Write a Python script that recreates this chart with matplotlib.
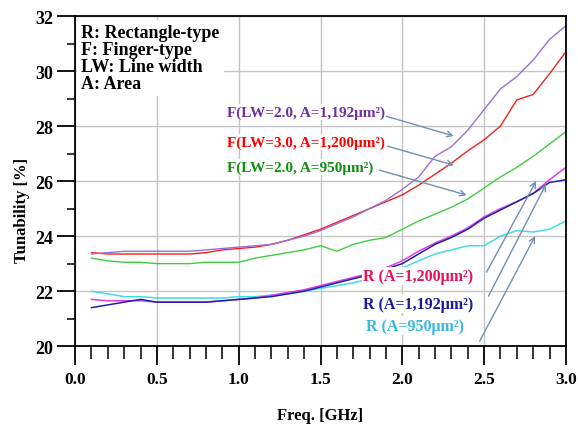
import numpy as np
import matplotlib
matplotlib.use("Agg")
import matplotlib.pyplot as plt
from matplotlib.ticker import MultipleLocator

plt.rcParams['font.family'] = ['Liberation Serif', 'DejaVu Serif']
plt.rcParams['font.weight'] = 'bold'

# frequency points (GHz)
freq = np.round(np.arange(0.1, 3.01, 0.1), 1)

# finger-type curves
f_lw2_a1192 = [23.35, 23.4, 23.45, 23.45, 23.45, 23.45, 23.45, 23.5, 23.55, 23.6,
               23.65, 23.7, 23.85, 24.0, 24.2, 24.45, 24.7, 25.0, 25.3, 25.7,
               26.15, 26.9, 27.25, 27.85, 28.6, 29.35, 29.8, 30.4, 31.15, 31.65]
f_lw3_a1200 = [23.4, 23.35, 23.35, 23.35, 23.35, 23.35, 23.35, 23.4, 23.5, 23.55,
               23.6, 23.7, 23.85, 24.05, 24.25, 24.5, 24.75, 25.0, 25.25, 25.5,
               25.85, 26.25, 26.65, 27.1, 27.5, 28.0, 28.95, 29.15, 29.9, 30.7]
f_lw2_a950 = [23.2, 23.1, 23.05, 23.05, 23.0, 23.0, 23.0, 23.05, 23.05, 23.05,
              23.2, 23.3, 23.4, 23.5, 23.65, 23.45, 23.7, 23.85, 23.95, 24.25,
              24.55, 24.8, 25.05, 25.35, 25.75, 26.15, 26.5, 26.9, 27.35, 27.8]

# rectangle-type curves
r_a1200 = [21.7, 21.65, 21.65, 21.65, 21.6, 21.6, 21.6, 21.6, 21.65, 21.7,
           21.75, 21.85, 21.95, 22.05, 22.2, 22.35, 22.5, 22.65, 22.85, 23.1,
           23.45, 23.75, 24.0, 24.3, 24.7, 25.0, 25.25, 25.55, 26.05, 26.5]
r_a1192 = [21.4, 21.5, 21.6, 21.7, 21.6, 21.6, 21.6, 21.6, 21.65, 21.7,
           21.75, 21.8, 21.9, 22.0, 22.15, 22.3, 22.45, 22.6, 22.8, 23.0,
           23.35, 23.7, 23.95, 24.25, 24.65, 24.95, 25.25, 25.55, 25.95, 26.05]
r_a950 = [22.0, 21.9, 21.8, 21.8, 21.75, 21.75, 21.75, 21.75, 21.75, 21.8,
          21.8, 21.85, 21.9, 22.0, 22.1, 22.2, 22.3, 22.45, 22.6, 22.85,
          23.1, 23.35, 23.5, 23.65, 23.65, 24.0, 24.2, 24.15, 24.25, 24.55]

fig = plt.figure(figsize=(5.78, 4.27), dpi=100)
ax = fig.add_axes([0.130, 0.187, 0.849, 0.773])

ax.plot(freq, r_a950, color='#40dcec', lw=1.1, zorder=2)
ax.plot(freq, r_a1200, color='#e040e0', lw=1.1, zorder=2)
ax.plot(freq, r_a1192, color='#2020b0', lw=1.1, zorder=2)
ax.plot(freq, f_lw2_a950, color='#40cc40', lw=1.0, zorder=2)
ax.plot(freq, f_lw3_a1200, color='#f02020', lw=1.0, zorder=2)
ax.plot(freq, f_lw2_a1192, color='#9a70d8', lw=1.0, zorder=2)

ax.set_xlim(0, 3.0)
ax.set_ylim(20, 32)
ax.xaxis.set_major_locator(MultipleLocator(0.5))
ax.xaxis.set_minor_locator(MultipleLocator(0.1))
ax.yaxis.set_major_locator(MultipleLocator(2))
ax.yaxis.set_minor_locator(MultipleLocator(1))
ax.xaxis.set_major_formatter(plt.FormatStrFormatter('%.1f'))
ax.tick_params(axis='x', which='major', length=14, width=1.3, labelsize=12.5, pad=4)
ax.tick_params(axis='x', which='minor', length=9, width=1.1)
ax.tick_params(axis='y', which='major', length=13, width=1.3, labelsize=13, pad=3)
ax.tick_params(axis='y', which='minor', length=6, width=1.1)
ax.grid(True, which='major', color='#c4c4c4', lw=1.0, zorder=0)
for s in ax.spines.values():
    s.set_linewidth(1.3)

ax.set_xlabel("Freq. [GHz]", fontsize=12, fontweight='bold', labelpad=14)
ax.set_ylabel("Tunability [%]", fontsize=12, fontweight='bold')
ax.yaxis.set_label_coords(-0.092, 0.415)

# legend-like notes
ax.text(0.012, 0.975, "R: Rectangle-type\nF: Finger-type\nLW: Line width\nA: Area",
        transform=ax.transAxes, ha='left', va='top', fontsize=13, fontweight='bold',
        linespacing=1.0, zorder=5,
        bbox=dict(facecolor='white', edgecolor='none', pad=3.0))

box = dict(facecolor='white', edgecolor='none', pad=1.0)
labels = [
    (0.93, 28.5, "F(LW=2.0, A=1,192μm²)", '#7030a0', 11),
    (0.93, 27.42, "F(LW=3.0, A=1,200μm²)", '#ff0000', 11),
    (0.93, 26.5, "F(LW=2.0, A=950μm²)", '#109010', 11),
    (1.76, 22.55, "R (A=1,200μm²)", '#e8105a', 11.5),
    (1.76, 21.55, "R (A=1,192μm²)", '#1a1a9a', 11.5),
    (1.78, 20.75, "R (A=950μm²)", '#38b8e0', 11.5),
]
for x, y, t, c, fs in labels:
    ax.text(x, y, t, color=c, fontsize=fs, fontweight='bold', ha='left',
            va='center', zorder=4, bbox=box)

# arrows from labels to curves
arrows = [
    ((1.90, 28.36), (2.315, 27.64)),
    ((1.91, 27.27), (2.315, 26.58)),
    ((1.86, 26.40), (2.394, 25.49)),
    ((2.515, 22.69), (2.818, 26.0)),
    ((2.527, 21.82), (2.879, 25.89)),
    ((2.473, 20.18), (2.812, 24.0)),
]
for tail, head in arrows:
    ax.annotate("", xy=head, xytext=tail, zorder=6,
                arrowprops=dict(arrowstyle='->', color='#7090b4', lw=1.0,
                                shrinkA=0, shrinkB=0))

plt.savefig("out.png", dpi=100)
plt.close()
